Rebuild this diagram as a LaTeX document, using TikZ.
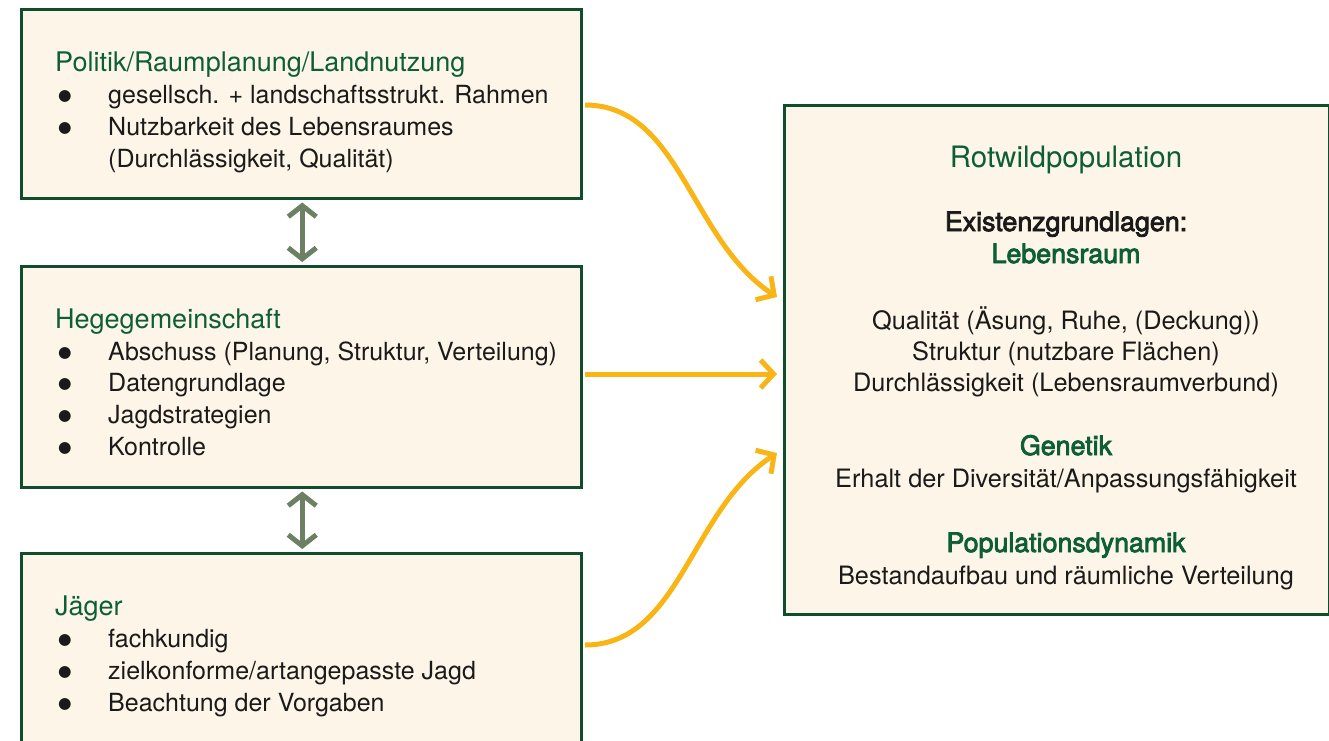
\documentclass[tikz,border=0pt]{standalone}
\usepackage{fontspec}
\setmainfont{TeX Gyre Heros}
\newfontfamily\mediumfont[FakeBold=3]{TeX Gyre Heros}
\newfontfamily\dotfont{DejaVu Sans}
\usetikzlibrary{arrows.meta}
\definecolor{bordergreen}{HTML}{0F4D2C}
\definecolor{boxfill}{HTML}{FDF6E8}
\definecolor{headgreen}{HTML}{0E5E35}
\definecolor{dblgreen}{HTML}{6C8064}
\definecolor{arrowyellow}{HTML}{F9B415}
\definecolor{txt}{HTML}{1A1A1A}
\begin{document}
\begin{tikzpicture}[x=1pt,y=-1pt,
  box/.style={draw=bordergreen, line width=2.5pt, fill=boxfill, inner sep=0pt, anchor=north west},
  body/.style={font=\fontsize{25}{29}\selectfont, text=txt, anchor=base west, inner sep=0pt},
  head/.style={body, text=headgreen, font=\fontsize{27}{31}\selectfont},
  bul/.style={body, anchor=base, font=\fontsize{15.5}{17}\dotfont},
  ctr/.style={font=\fontsize{25.3}{29}\selectfont, text=txt, anchor=base, inner sep=0pt},
  ctrhead/.style={ctr, text=headgreen, font=\fontsize{26.8}{30}\mediumfont},
  yarrow/.style={draw=arrowyellow, line width=5pt, -{Straight Barb[length=13pt,width=28pt]}},
  darrow/.style={draw=dblgreen, line width=5pt, {Straight Barb[length=11pt,width=28pt]}-{Straight Barb[length=11pt,width=28pt]}}
]
\useasboundingbox (0,0) rectangle (1329,740);
\clip (0,0) rectangle (1329,740);

% boxes
\node[box, minimum width=560pt, minimum height=189pt] (b1) at (20,8) {};
\node[box, minimum width=560pt, minimum height=221pt] (b2) at (20,265) {};
\node[box, minimum width=560pt, minimum height=220pt] (b3) at (20,552) {};
\node[box, minimum width=545pt, minimum height=509pt] (rb) at (783,104) {};

% box 1 text
\node[head] (h1) at (55,71) {Politik/Raumplanung/Landnutzung};
\node[bul] (b1a) at (65,100) {●};
\node[body] (t1a) at (108,103) {gesellsch. + landschaftsstrukt. Rahmen};
\node[bul] (b1b) at (65,132) {●};
\node[body] (t1b) at (108,135) {Nutzbarkeit des Lebensraumes};
\node[body] (t1c) at (108,167) {(Durchlässigkeit, Qualität)};

% box 2 text
\node[head] (h2) at (55,328) {Hegegemeinschaft};
\node[bul] (b2a) at (65,357) {●};
\node[body] (t2a) at (108,360) {Abschuss (Planung, Struktur, Verteilung)};
\node[bul] (b2b) at (65,388) {●};
\node[body] (t2b) at (108,391) {Datengrundlage};
\node[bul] (b2c) at (65,420) {●};
\node[body] (t2c) at (108,423) {Jagdstrategien};
\node[bul] (b2d) at (65,452) {●};
\node[body] (t2d) at (108,455) {Kontrolle};

% box 3 text
\node[head] (h3) at (55,615) {Jäger};
\node[bul] (b3a) at (65,644) {●};
\node[body] (t3a) at (108,647) {fachkundig};
\node[bul] (b3b) at (65,676) {●};
\node[body] (t3b) at (108,679) {zielkonforme/artangepasste Jagd};
\node[bul] (b3c) at (65,708) {●};
\node[body] (t3c) at (108,711) {Beachtung der Vorgaben};

% right box text
\node[ctr, text=headgreen, font=\fontsize{29.5}{33}\selectfont] (r0) at (1066,167) {Rotwildpopulation};
\node[ctr, font=\fontsize{26.8}{30}\mediumfont] (r1) at (1066,231) {Existenzgrundlagen:};
\node[ctrhead] (r2) at (1066,263) {Lebensraum};
\node[ctr] (r3) at (1066,329) {Qualität (Äsung, Ruhe, (Deckung))};
\node[ctr] (r4) at (1066,360) {Struktur (nutzbare Flächen)};
\node[ctr] (r5) at (1066,391) {Durchlässigkeit (Lebensraumverbund)};
\node[ctrhead] (r6) at (1066,455) {Genetik};
\node[ctr] (r7) at (1066,487) {Erhalt der Diversität/Anpassungsfähigkeit};
\node[ctrhead] (r8) at (1066,552) {Populationsdynamik};
\node[ctr] (r9) at (1066,584) {Bestandaufbau und räumliche Verteilung};

% connector end points
\coordinate (s1) at (585,105);
\coordinate (s2) at (585,374);
\coordinate (s3) at (585,645);
\coordinate (e1) at (777,297);
\coordinate (e2) at (777,374);
\coordinate (e3) at (777,453);

% yellow arrows
\draw[yarrow] (s1) .. controls (680,105) and (690,240) .. (e1);
\draw[yarrow] (s2) -- (e2);
\draw[yarrow] (s3) .. controls (680,645) and (690,510) .. (e3);

% double arrows
\draw[darrow] ([xshift=1pt,yshift=-3pt]b1.south) -- ([xshift=1pt,yshift=3pt]b2.north);
\draw[darrow] ([xshift=1pt,yshift=-3pt]b2.south) -- ([xshift=1pt,yshift=3pt]b3.north);
\end{tikzpicture}
\end{document}
